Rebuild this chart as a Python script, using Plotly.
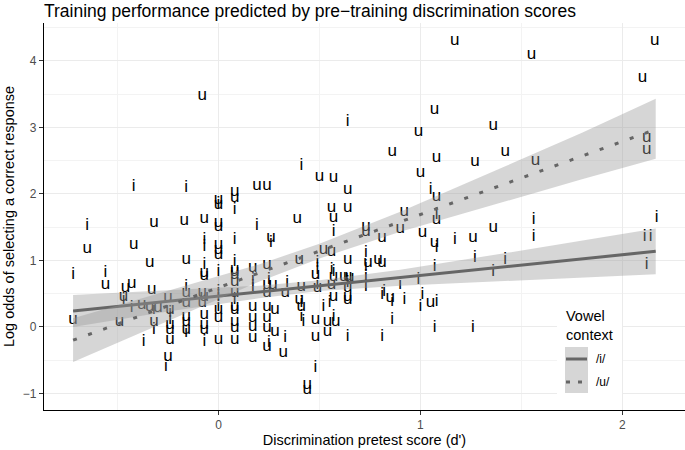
import numpy as np
import plotly.graph_objects as go

# ---------------- data ----------------
i_x = [-0.72, -0.65, -0.56, -0.47, -0.43, -0.42, -0.37, -0.32, -0.32, -0.26,
       -0.24, -0.24, -0.16, -0.16, -0.16, -0.07, -0.07, -0.07, -0.07, 0.0,
       0.0, 0.0, 0.0, 0.0, 0.08, 0.08, 0.08, 0.08, 0.17, 0.19,
       0.25, 0.25, 0.26, 0.33, 0.34, 0.41, 0.41, 0.41, 0.42, 0.48,
       0.49, 0.49, 0.49, 0.52, 0.55, 0.56, 0.57, 0.57, 0.57, 0.64,
       0.64, 0.64, 0.73, 0.73, 0.73, 0.73, 0.81, 0.82, 0.81, 0.86,
       0.86, 0.90, 0.92, 0.99, 1.00, 1.01, 1.05, 1.07, 1.07, 1.08,
       1.08, 1.08, 1.17, 1.26, 1.27, 1.36, 1.42, 1.56, 1.56, 2.11,
       2.14, 2.12, 2.17, 0.17]
i_y = [0.78, 1.52, 0.81, 0.41, 0.29, 2.11, -0.23, 0.26, -0.05, -0.60,
       0.21, 0.11, 2.09, 0.60, -0.09, 1.31, 1.20, 0.93, -0.23, 1.85,
       0.83, 0.45, 0.53, 0.30, 1.76, 1.31, 0.98, 0.41, 0.60, 1.52,
       0.71, -0.24, 1.26, -0.17, 0.66, 2.42, 0.36, 0.15, 0.08, -0.62,
       0.96, 0.86, 0.63, 0.30, 0.36, 0.86, 0.83, 1.43, 0.15, 3.08,
       0.66, -0.15, 1.11, 0.90, 0.75, 0.60, 0.48, 0.53, -0.15, 0.38,
       0.11, 0.63, 0.41, 0.71, 0.30, 0.48, 2.06, 0.90, -0.02, 1.68,
       1.19, 0.38, 1.31, -0.02, 1.04, 0.83, 1.01, 1.61, 1.35, 1.35,
       1.35, 0.93, 1.64, 0.71]

u_x = [-0.72, -0.65, -0.56, -0.46, -0.43, -0.42, -0.47, -0.49, -0.38, -0.34,
       -0.34, -0.33, -0.32, -0.30, -0.32, -0.25, -0.24, -0.24, -0.24, -0.24,
       -0.25, -0.17, -0.16, -0.16, -0.16, -0.16, -0.16, -0.16, -0.08, -0.07,
       -0.07, -0.07, -0.08, -0.08, -0.07, -0.07, -0.07, -0.07, 0.0, 0.0,
       0.0, 0.0, 0.0, 0.0, 0.0, 0.0, 0.0, 0.0, 0.08, 0.08,
       0.08, 0.08, 0.08, 0.08, 0.08, 0.08, 0.08, 0.08, 0.08, 0.08,
       0.17, 0.17, 0.17, 0.17, 0.17, 0.19, 0.24, 0.24, 0.24, 0.24,
       0.24, 0.24, 0.24, 0.24, 0.26, 0.27, 0.28, 0.28, 0.32, 0.33,
       0.39, 0.40, 0.40, 0.41, 0.41, 0.44, 0.44, 0.48, 0.48, 0.48,
       0.50, 0.49, 0.52, 0.54, 0.54, 0.56, 0.57, 0.57, 0.56, 0.57,
       0.56, 0.57, 0.58, 0.62, 0.64, 0.64, 0.64, 0.64, 0.65, 0.64,
       0.64, 0.64, 0.73, 0.73, 0.74, 0.79, 0.81, 0.81, 0.85, 0.86,
       0.90, 0.92, 0.99, 1.00, 1.01, 1.05, 1.07, 1.08, 1.08, 1.08,
       1.07, 1.17, 1.26, 1.27, 1.36, 1.36, 1.42, 1.55, 1.57, 2.10,
       2.12, 2.12, 2.16]
u_y = [0.11, 1.17, 0.63, 0.59, 0.65, 1.23, 0.45, 0.08, 0.33, 0.96,
       0.30, 0.56, 1.56, 0.29, 0.08, 0.44, 0.26, 0.03, -0.05, -0.20,
       -0.45, 1.59, 1.01, 0.51, 0.36, 0.15, 0.08, -0.05, 3.47, 1.62,
       0.81, 0.77, 0.51, 0.36, 0.45, 0.18, 0.03, -0.05, 1.91, 1.83,
       1.56, 1.50, 1.23, 1.16, 1.08, 0.26, 0.14, -0.20, 2.03, 1.94,
       0.86, 0.83, 0.78, 0.68, 0.51, 0.30, 0.26, 0.08, -0.02, -0.20,
       0.89, 0.30, 0.14, 0.00, -0.17, 2.12, 2.12, 0.93, 0.63, 0.51,
       0.30, 0.14, -0.02, -0.30, 1.34, 0.63, 0.26, -0.08, -0.39, 0.51,
       1.62, 1.01, 0.41, 0.60, 0.30, -0.87, -0.95, 0.78, 0.11, -0.15,
       2.26, 0.59, 1.16, 0.08, -0.08, 1.79, 2.24, 1.64, 1.13, 0.75,
       0.63, 0.45, 0.08, 0.75, 2.06, 1.79, 1.01, 0.75, 0.74, 0.59,
       0.45, 0.41, 1.50, 1.43, 0.96, 1.01, 1.34, 0.96, 0.44, 2.63,
       1.47, 1.73, 2.93, 2.32, 1.41, 0.36, 3.26, 2.54, 1.95, 1.61,
       1.26, 4.30, 1.34, 2.48, 3.02, 1.49, 2.63, 4.09, 2.50, 3.74,
       2.84, 2.66, 4.30]

# fitted lines and 95% bands
band_x = [-0.72, -0.25, 0.2, 0.5, 0.9, 1.4, 1.8, 2.165]
i_fit = [0.24, 0.386, 0.525, 0.618, 0.742, 0.897, 1.021, 1.136]
i_lo = [0.00, 0.23, 0.43, 0.54, 0.62, 0.69, 0.74, 0.79]
i_hi = [0.48, 0.55, 0.62, 0.70, 0.86, 1.10, 1.30, 1.48]
u_fit = [-0.20, 0.316, 0.81, 1.14, 1.58, 2.13, 2.57, 2.97]
u_lo = [-0.53, 0.09, 0.68, 1.03, 1.43, 1.87, 2.22, 2.53]
u_hi = [0.13, 0.54, 0.94, 1.25, 1.73, 2.39, 2.92, 3.43]

x_ticks = [0, 1, 2]
y_ticks = [-1, 0, 1, 2, 3, 4]
legend_labels = ["/i/", "/u/"]

LINE_COL = "#666666"
BAND_COL = "rgba(153,153,153,0.4)"
FAM = "Liberation Sans, Arial, sans-serif"
TXT_FONT = dict(family=FAM, size=17, color="black")

fig = go.Figure()
fig.add_trace(go.Scatter(x=i_x, y=i_y, mode="text", text=["i"] * len(i_x),
                         textfont=TXT_FONT, showlegend=False, hoverinfo="skip"))
fig.add_trace(go.Scatter(x=u_x, y=u_y, mode="text", text=["u"] * len(u_x),
                         textfont=TXT_FONT, showlegend=False, hoverinfo="skip"))

for fit, lo, hi, dash in [(i_fit, i_lo, i_hi, "solid"), (u_fit, u_lo, u_hi, "4px,12px")]:
    fig.add_trace(go.Scatter(x=band_x + band_x[::-1], y=hi + lo[::-1],
                             fill="toself", fillcolor=BAND_COL, line=dict(width=0),
                             mode="lines", showlegend=False, hoverinfo="skip"))
    fig.add_trace(go.Scatter(x=band_x, y=fit, mode="lines",
                             line=dict(color=LINE_COL, width=3, dash=dash),
                             showlegend=False, hoverinfo="skip"))

# ---------------- layout ----------------
W, H = 685, 450
L, R, T, B = 44, 0, 23, 40
pw, ph = W - L - R, H - T - B

def pxx(p):
    return (p - L) / pw

def pxy(p):
    return (H - B - p) / ph

axis_common = dict(
    showline=True, linecolor="black", linewidth=1.1, mirror=False, automargin=False,
    ticks="outside", ticklen=4, tickcolor="#333333", tickwidth=1,
    tickfont=dict(family=FAM, size=12, color="#4D4D4D"),
    showgrid=True, gridcolor="#EBEBEB", gridwidth=1.1, zeroline=False,
    minor=dict(showgrid=True, gridcolor="#F3F3F3", gridwidth=0.6, dtick=0.5, ticks=""),
)

fig.update_layout(
    width=W, height=H,
    margin=dict(l=L, r=R, t=T, b=B, pad=0),
    paper_bgcolor="white", plot_bgcolor="white",
    title=dict(text="Training performance predicted by pre\u2212training discrimination scores",
               x=pxx(44), xref="paper", xanchor="left",
               y=1 - 11 / H, yref="container", yanchor="middle",
               font=dict(family=FAM, size=17.5, color="black")),
    xaxis=dict(range=[-0.864, 2.31], tickvals=x_ticks, **axis_common,
               title=dict(text="Discrimination pretest score (d')", standoff=3,
                          font=dict(family=FAM, size=14.5, color="black"))),
    yaxis=dict(range=[-1.25, 4.57], tickvals=y_ticks, **axis_common,
               title=dict(text="Log odds of selecting a correct response", standoff=4,
                          font=dict(family=FAM, size=14.5, color="black"))),
    showlegend=False,
)

# ---------------- manual ggplot-style legend ----------------
shapes = [
    dict(type="rect", xref="paper", yref="paper", x0=pxx(557), x1=pxx(622), y0=pxy(404), y1=pxy(300),
         fillcolor="white", line=dict(width=0), layer="above"),
    dict(type="rect", xref="paper", yref="paper", x0=pxx(565), x1=pxx(588), y0=pxy(370), y1=pxy(347),
         fillcolor="#D6D6D6", line=dict(width=0), layer="above"),
    dict(type="rect", xref="paper", yref="paper", x0=pxx(565), x1=pxx(588), y0=pxy(393), y1=pxy(370),
         fillcolor="#D6D6D6", line=dict(width=0), layer="above"),
    dict(type="line", xref="paper", yref="paper", x0=pxx(566), x1=pxx(587), y0=pxy(359), y1=pxy(359),
         line=dict(color=LINE_COL, width=3, dash="solid"), layer="above"),
    dict(type="line", xref="paper", yref="paper", x0=pxx(566), x1=pxx(587), y0=pxy(382), y1=pxy(382),
         line=dict(color=LINE_COL, width=3, dash="4px,8px"), layer="above"),
]
fig.update_layout(shapes=shapes)

annotations = [
    dict(text="Vowel<br>context", x=pxx(564), y=pxy(325), xref="paper", yref="paper",
         xanchor="left", yanchor="middle", showarrow=False, align="left",
         font=dict(family=FAM, size=14.5, color="black")),
]
for lab, yp in zip(legend_labels, [359, 382]):
    annotations.append(dict(text=lab, x=pxx(594), y=pxy(yp), xref="paper", yref="paper",
                            xanchor="left", yanchor="middle", showarrow=False,
                            font=dict(family=FAM, size=12, color="black")))
fig.update_layout(annotations=annotations)

fig.write_html("out.html", config={"displayModeBar": False},
               post_script="document.body.style.margin='0';document.body.style.overflow='hidden';")
